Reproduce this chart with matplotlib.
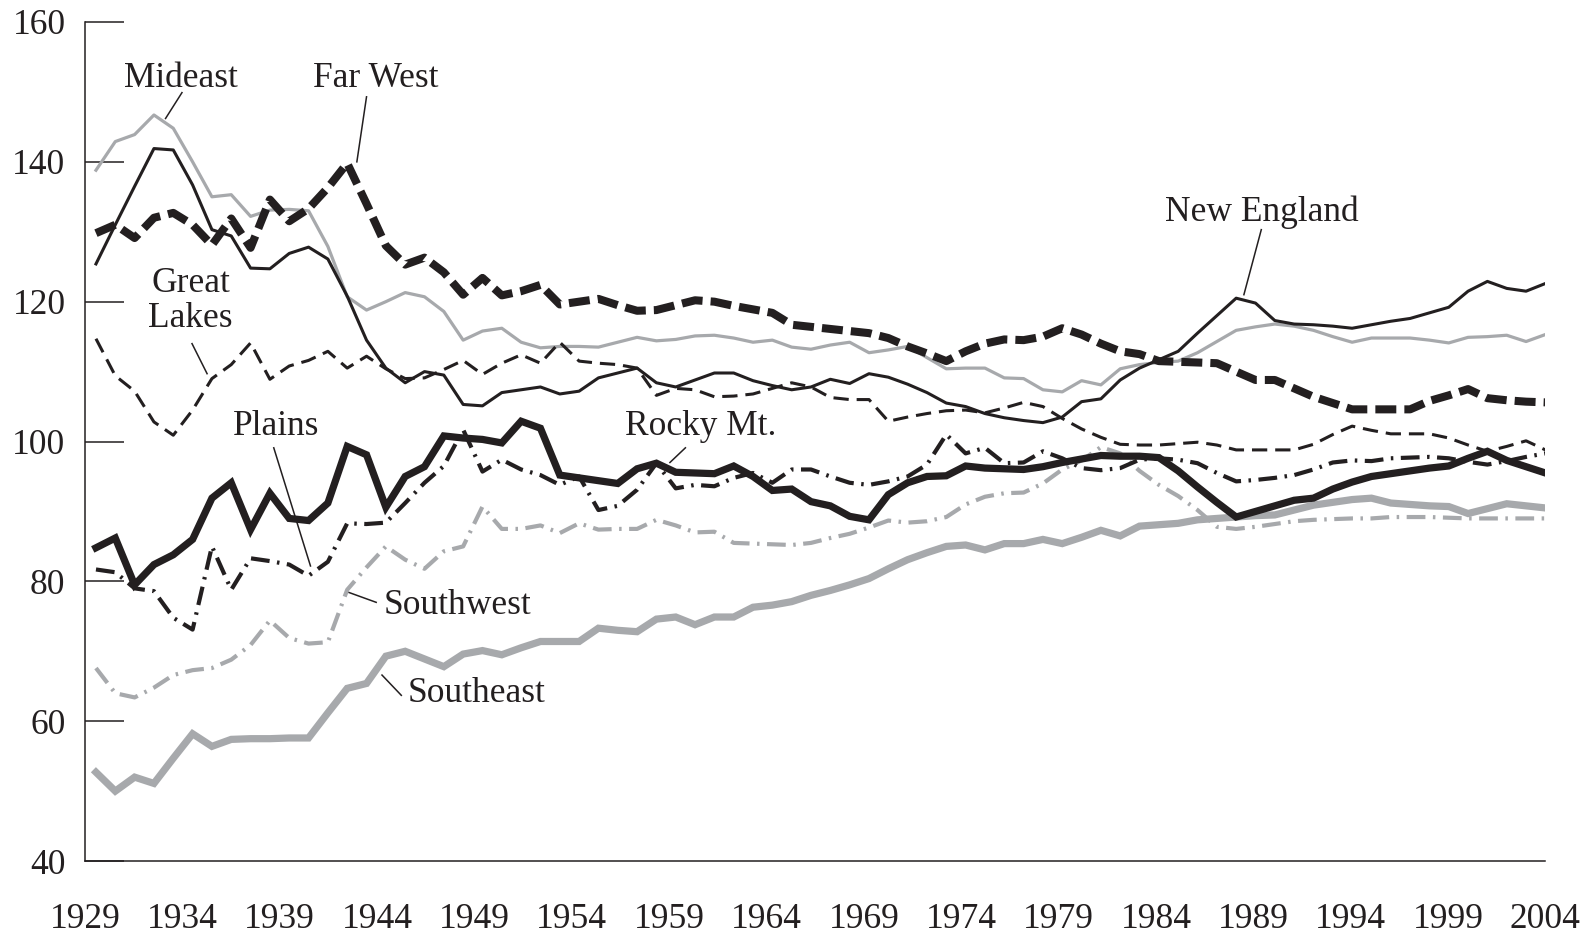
import numpy as np
import matplotlib
matplotlib.use("Agg")
import matplotlib.pyplot as plt

plt.rcParams['font.family'] = ['Liberation Serif', 'DejaVu Serif']

years = np.arange(1929, 2005)

# Per-capita income relative to U.S. average
mideast = [138.8, 142.9, 143.9, 146.7, 144.8, 140.0, 135.0, 135.3, 132.2, 133.1,
           133.2, 133.0, 127.9, 120.7, 118.8, 120.0, 121.3, 120.7, 118.6, 114.5,
           115.8, 116.2, 114.2, 113.4, 113.6, 113.6, 113.5, 114.2, 114.9, 114.4,
           114.6, 115.1, 115.2, 114.8, 114.2, 114.5, 113.5, 113.2, 113.8, 114.2,
           112.7, 113.1, 113.6, 112.0, 110.4, 110.5, 110.5, 109.1, 109.0, 107.4,
           107.1, 108.7, 108.1, 110.4, 111.0, 111.3, 111.5, 112.7, 114.3, 115.9,
           116.4, 116.8, 116.5, 115.9, 115.0, 114.2, 114.8, 114.8, 114.8, 114.5,
           114.1, 114.9, 115.0, 115.2, 114.3, 115.3]
new_england = [125.4, 131.0, 136.5, 141.9, 141.7, 136.7, 130.3, 129.4, 124.8, 124.7,
               126.9, 127.8, 126.1, 120.8, 114.5, 110.5, 108.4, 110.0, 109.5, 105.3,
               105.1, 107.0, 107.4, 107.8, 106.8, 107.2, 109.1, 109.8, 110.5, 108.4,
               107.8, 108.8, 109.8, 109.8, 108.7, 108.0, 107.4, 107.8, 108.9, 108.3,
               109.7, 109.2, 108.2, 107.0, 105.5, 105.0, 104.0, 103.4, 103.0, 102.7,
               103.5, 105.7, 106.1, 108.8, 110.5, 111.7, 112.9, 115.5, 118.0, 120.5,
               119.8, 117.3, 116.8, 116.7, 116.5, 116.2, 116.7, 117.2, 117.6, 118.4,
               119.2, 121.5, 122.9, 121.9, 121.5, 122.6]
far_west = [129.8, 131.0, 129.1, 132.0, 132.7, 131.0, 128.1, 131.9, 127.7, 134.6,
            131.5, 133.3, 136.3, 139.8, 134.0, 128.0, 125.3, 126.3, 124.2, 121.0,
            123.4, 120.9, 121.5, 122.4, 119.6, 120.0, 120.4, 119.5, 118.7, 118.8,
            119.5, 120.2, 120.0, 119.4, 118.9, 118.4, 116.7, 116.4, 116.1, 115.8,
            115.5, 114.8, 113.6, 112.6, 111.5, 112.9, 114.0, 114.6, 114.5, 115.0,
            116.2, 115.3, 114.0, 112.9, 112.5, 111.5, 111.4, 111.3, 111.2, 110.0,
            108.8, 108.8, 107.6, 106.4, 105.5, 104.6, 104.6, 104.6, 104.6, 105.8,
            106.6, 107.5, 106.2, 105.9, 105.7, 105.6]
great_lakes = [114.7, 109.4, 107.2, 102.8, 100.9, 104.5, 109.0, 111.0, 114.1, 108.9,
               110.8, 111.6, 112.9, 110.5, 112.2, 110.4, 109.0, 109.1, 110.3, 111.6,
               109.6, 111.2, 112.4, 111.2, 114.2, 111.5, 111.2, 111.0, 110.5, 106.6,
               107.6, 107.4, 106.4, 106.5, 106.8, 107.6, 108.4, 107.8, 106.3, 106.0,
               106.0, 102.9, 103.5, 104.0, 104.4, 104.5, 104.1, 104.8, 105.6, 105.0,
               103.3, 101.8, 100.6, 99.6, 99.5, 99.5, 99.7, 99.9, 99.5, 98.8,
               98.8, 98.8, 98.8, 99.6, 101.0, 102.2, 101.6, 101.1, 101.1, 101.1,
               100.5, 99.5, 98.6, 99.3, 100.1, 98.8]
plains = [81.7, 81.3, 79.0, 78.6, 74.8, 73.1, 85.0, 78.8, 83.3, 82.9,
          82.4, 80.8, 82.8, 88.3, 88.2, 88.4, 91.2, 94.1, 96.5, 101.7,
          95.7, 97.4, 96.0, 95.2, 93.8, 95.0, 90.2, 90.8, 93.1, 96.9,
          93.3, 93.8, 93.6, 94.8, 95.5, 94.1, 96.0, 96.0, 95.0, 94.1,
          93.8, 94.3, 95.0, 96.7, 101.0, 98.3, 99.1, 96.9, 97.0, 98.6,
          97.6, 96.2, 95.9, 96.2, 97.4, 97.6, 97.4, 96.9, 95.5, 94.3,
          94.5, 94.8, 95.2, 96.0, 97.0, 97.3, 97.2, 97.6, 97.7, 97.8,
          97.6, 97.1, 96.7, 97.2, 97.8, 98.3]
rocky_mt = [84.8, 86.2, 79.5, 82.4, 83.8, 86.0, 91.9, 94.1, 87.4, 92.6,
            89.0, 88.7, 91.2, 99.3, 98.1, 90.6, 95.0, 96.4, 100.8, 100.5,
            100.3, 99.8, 102.9, 101.9, 95.2, 94.8, 94.4, 94.0, 96.1, 96.9,
            95.6, 95.5, 95.4, 96.5, 95.0, 93.0, 93.2, 91.4, 90.8, 89.3,
            88.8, 92.4, 94.1, 95.0, 95.1, 96.5, 96.2, 96.1, 96.0, 96.4,
            97.0, 97.5, 98.0, 97.9, 97.9, 97.7, 95.8, 93.5, 91.3, 89.2,
            90.0, 90.8, 91.6, 91.9, 93.2, 94.2, 95.0, 95.4, 95.8, 96.2,
            96.5, 97.6, 98.6, 97.3, 96.4, 95.5]
southwest = [67.6, 64.0, 63.4, 64.8, 66.6, 67.3, 67.6, 68.8, 70.9, 74.4,
             71.9, 71.1, 71.3, 78.8, 82.0, 85.0, 83.1, 81.8, 84.3, 85.0,
             90.7, 87.5, 87.5, 88.0, 86.9, 88.3, 87.4, 87.5, 87.5, 88.8,
             88.0, 87.0, 87.1, 85.5, 85.4, 85.3, 85.2, 85.5, 86.2, 86.8,
             87.7, 88.7, 88.4, 88.6, 89.2, 91.0, 92.1, 92.6, 92.7, 94.0,
             96.0, 97.3, 99.2, 98.3, 95.8, 93.8, 92.2, 90.2, 87.8, 87.5,
             87.8, 88.2, 88.6, 88.8, 88.9, 89.0, 89.0, 89.2, 89.2, 89.2,
             89.1, 89.0, 89.0, 89.0, 89.0, 89.0]
southeast = [52.7, 50.0, 52.0, 51.1, 54.7, 58.2, 56.4, 57.4, 57.5, 57.5,
             57.6, 57.6, 61.2, 64.7, 65.4, 69.3, 70.0, 68.9, 67.8, 69.6,
             70.1, 69.5, 70.5, 71.4, 71.4, 71.4, 73.3, 73.0, 72.8, 74.6,
             74.9, 73.8, 74.9, 74.9, 76.3, 76.6, 77.1, 78.0, 78.7, 79.5,
             80.4, 81.8, 83.1, 84.1, 85.0, 85.2, 84.5, 85.4, 85.4, 86.0,
             85.4, 86.3, 87.3, 86.5, 87.9, 88.1, 88.3, 88.8, 89.0, 89.2,
             89.4, 89.5, 90.2, 90.9, 91.3, 91.7, 91.9, 91.2, 91.0, 90.8,
             90.7, 89.7, 90.4, 91.1, 90.8, 90.5]

tick_years = list(range(1929, 2005, 5))

BLACK = '#231f20'
GRAY = '#a7a9ac'

fig = plt.figure(figsize=(15.85, 9.4), dpi=100)
ax = fig.add_axes([0.0536, 0.084, 0.9214, 0.8926])

# gray series first, black on top
ax.plot(years, southeast, color=GRAY, lw=5.2, solid_joinstyle='miter')
ax.plot(years, southwest, color=GRAY, lw=3.0, dashes=(4.5, 1.8, 0.6, 1.8))
ax.plot(years, mideast, color=GRAY, lw=2.3)
ax.plot(years, new_england, color=BLACK, lw=2.2)
ax.plot(years, great_lakes, color=BLACK, lw=2.2, dashes=(5.0, 2.6))
ax.plot(years, plains, color=BLACK, lw=3.0, dashes=(4.5, 1.8, 0.6, 1.8))
ax.plot(years, rocky_mt, color=BLACK, lw=5.2, solid_joinstyle='miter')
ax.plot(years, far_west, color=BLACK, lw=5.8, dashes=(2.6, 1.0))

# labels with leader lines
labels = [
    ("Mideast", 1933.4, 151.9, (1933.45, 149.9), (1932.6, 146.2)),
    ("Far West", 1943.5, 151.9, (1943.0, 149.3), (1942.5, 140.0)),
    ("New England", 1989.35, 132.85, (1989.3, 130.3), (1988.4, 121.0)),
    ("Great\nLakes", 1933.9, 120.1, (1933.97, 114.0), (1934.75, 109.7)),
    ("Plains", 1938.3, 102.1, (1938.2, 99.1), (1940.1, 82.2)),
    ("Rocky Mt.", 1960.3, 102.1, (1959.5, 99.1), (1958.7, 97.0)),
    ("Southwest", 1947.7, 76.5, (1942.1, 78.4), (1943.5, 77.0)),
    ("Southeast", 1948.7, 63.9, (1943.8, 66.6), (1944.8, 63.7)),
]
for text, tx, ty, p0, p1 in labels:
    ax.text(tx, ty, text, ha='center', va='center', fontsize=25.5,
            color=BLACK, linespacing=1.05)
    ax.plot([p0[0], p1[0]], [p0[1], p1[1]], color=BLACK, lw=1.1)

x0, x1 = 1928.43, 2004.0
ax.set_xlim(x0, x1)
ax.set_ylim(40, 160)
ax.set_yticks(range(40, 161, 20))
# tick labels sit evenly along the axis, as in the original
ax.set_xticks([x0 + (y - 1929) * (x1 - x0) / 75 for y in tick_years])
ax.set_xticklabels([str(y) for y in tick_years])

for s in ['top', 'right']:
    ax.spines[s].set_visible(False)
for s in ['left', 'bottom']:
    ax.spines[s].set_linewidth(1.1)
    ax.spines[s].set_color(BLACK)

ax.tick_params(axis='y', direction='in', length=28, width=1.1, pad=14,
               labelsize=25.5, colors=BLACK)
ax.tick_params(axis='x', length=0, pad=30, labelsize=25.5, colors=BLACK)

fig.savefig('out.png', dpi=100)
